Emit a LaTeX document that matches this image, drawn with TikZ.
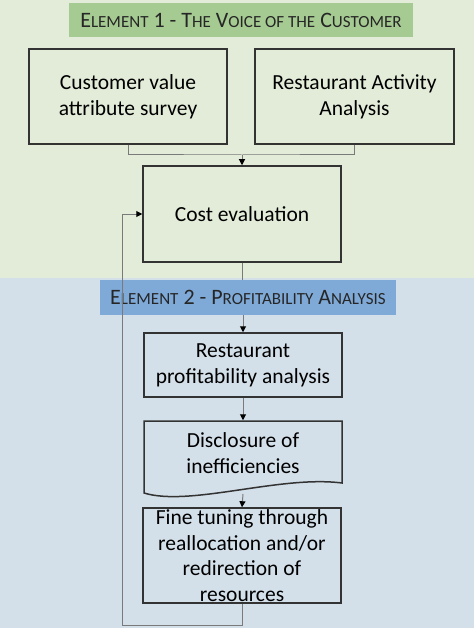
\documentclass[tikz,border=0pt]{standalone}
\usepackage{fontspec}
\setmainfont{Carlito}
\usetikzlibrary{arrows.meta}
\definecolor{bggreen}{HTML}{E2ECD8}
\definecolor{bgblue}{HTML}{D3DFE9}
\definecolor{titlegreen}{HTML}{A6CB92}
\definecolor{titleblue}{HTML}{7FAAD8}
\definecolor{boxline}{HTML}{333333}
\definecolor{linkgray}{HTML}{7A7A7A}
\newcommand{\smc}[1]{{\fontsize{17}{20}\selectfont #1}}
\tikzset{
	stepbox/.style={draw=boxline, line width=1.5pt, align=center, inner sep=0pt,
		text=black, font=\fontsize{21.5}{26}\selectfont},
	titlebox/.style={inner sep=0pt, text=black!85, font=\fontsize{22}{26}\selectfont},
	link/.style={draw=linkgray, line width=1pt},
	flow/.style={link, -{Triangle[length=6pt,width=6pt,color=black]}}
}
\begin{document}
\begin{tikzpicture}[x=1pt, y=-1pt]
				\useasboundingbox (0,0) rectangle (474,628);
				\fill[bggreen] (0,0) rectangle (474,278);
				\fill[bgblue] (0,278) rectangle (474,628);
				% element 1
				\node[titlebox, fill=titlegreen, minimum width=344pt, minimum height=34pt] (el1) at (241,20)
				{E\smc{LEMENT} 1 - T\smc{HE} V\smc{OICE OF THE} C\smc{USTOMER}};
				\node[stepbox, minimum width=198pt, minimum height=95pt] (survey) at (128,96.5)
				{Customer value\\attribute survey};
				\node[stepbox, minimum width=199pt, minimum height=95pt] (activity) at (354.5,96.5)
				{Restaurant Activity\\Analysis};
				\node[stepbox, minimum width=198pt, minimum height=96pt] (cost) at (242,214)
				{Cost evaluation};
				% element 2
				\node[titlebox, fill=titleblue, minimum width=296pt, minimum height=35pt] (el2) at (248,297.5)
				{E\smc{LEMENT} 2 - P\smc{ROFITABILITY} A\smc{NALYSIS}};
				\node[stepbox, minimum width=198pt, minimum height=64pt] (profit) at (243,365)
				{Restaurant\\profitability analysis};
				\node[stepbox, draw=none, minimum width=198pt, minimum height=64pt] (discl) at (243,453)
				{Disclosure of\\inefficiencies};
				\draw[boxline, line width=1.5pt] (144,421) -- (342,421) -- (342,483)
				.. controls (280,475) and (190,507) .. (144,493) -- cycle;
				\node[stepbox, minimum width=198pt, minimum height=95pt,
				font=\fontsize{21.5}{25.5}\selectfont] (tuning) at (242,555.5)
				{Fine tuning through\\reallocation and/or\\redirection of\\resources};
				% connectors
				\coordinate (join) at (242,155);
				\coordinate (dwave) at (243,494);
				\coordinate (fb) at (122,625);
				\draw[link] (survey.south) |- (join) -| (activity.south);
				\draw[flow] (join) -- (cost.north);
				\draw[link] (cost.south) -- (cost.south |- el2.north);
				\draw[flow] (el2.south -| profit.north) -- (profit.north);
				\draw[flow] (profit.south) -- (discl.north);
				\draw[flow] (dwave) -- (tuning.north);
				\draw[flow] (tuning.south) |- (fb) |- (cost.west);
			\end{tikzpicture}
\end{document}
